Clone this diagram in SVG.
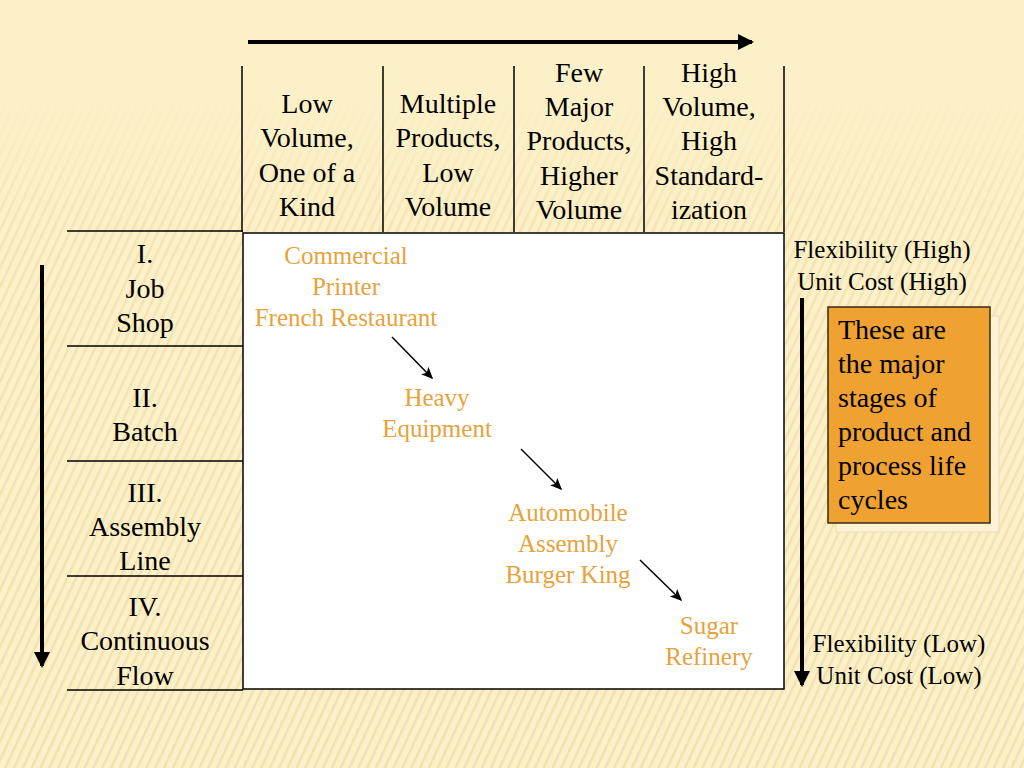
<svg xmlns="http://www.w3.org/2000/svg" width="1024" height="768" viewBox="0 0 1024 768">
  <defs>
    <pattern id="stripes" width="8" height="8" patternUnits="userSpaceOnUse" patternTransform="rotate(25)">
      <rect x="0" y="0" width="2.5" height="8" fill="#E3CB86"/>
    </pattern>
    <linearGradient id="fade" x1="0" y1="0" x2="0" y2="1">
      <stop offset="0" stop-color="#fff" stop-opacity="0"/>
      <stop offset="0.12" stop-color="#fff" stop-opacity="0"/>
      <stop offset="0.3" stop-color="#fff" stop-opacity="0.8"/>
      <stop offset="1" stop-color="#fff" stop-opacity="1"/>
    </linearGradient>
    <mask id="m">
      <rect x="0" y="0" width="1024" height="768" fill="url(#fade)"/>
    </mask>
    <marker id="thick" markerWidth="4" markerHeight="4" refX="3.5" refY="2" orient="auto" markerUnits="strokeWidth">
      <path d="M0,0 L4,2 L0,4 Z" fill="#000"/>
    </marker>
    <marker id="thin" markerWidth="8" markerHeight="8" refX="7" refY="4" orient="auto" markerUnits="strokeWidth">
      <path d="M0,0.5 L8,4 L0,7.5 L2,4 Z" fill="#000"/>
    </marker>
  </defs>
  <style>
    text { font-family: 'Liberation Serif', Tinos, 'Times New Roman', 'DejaVu Serif', serif; }
    .h { font-size: 28px; text-anchor: middle; fill: #000; }
    .o { font-size: 25px; fill: #E6A23C; text-anchor: middle; }
    .r { font-size: 25px; text-anchor: middle; fill: #000; }
    .ln { stroke: #000; stroke-width: 1.5; fill: none; }
    .thk { stroke: #000; stroke-width: 4; fill: none; }
    .arr { stroke: #000; stroke-width: 1.5; fill: none; marker-end: url(#thin); }
  </style>

  <rect x="0" y="0" width="1024" height="768" fill="#FCF0C8"/>
  <rect x="0" y="0" width="1024" height="768" fill="url(#stripes)" opacity="0.4" mask="url(#m)"/>

  <!-- header columns -->
  <g id="col-lines">
    <line class="ln" x1="242" y1="66" x2="242" y2="232"/>
    <line class="ln" x1="383" y1="66" x2="383" y2="232"/>
    <line class="ln" x1="514" y1="66" x2="514" y2="232"/>
    <line class="ln" x1="644" y1="66" x2="644" y2="232"/>
    <line class="ln" x1="784" y1="66" x2="784" y2="232"/>
  </g>
  <g id="col1" class="h" font-family="Liberation Serif, serif">
    <text x="307" y="113">Low</text>
    <text x="307" y="147">Volume,</text>
    <text x="307" y="182">One of a</text>
    <text x="307" y="216">Kind</text>
  </g>
  <g id="col2" class="h">
    <text x="448" y="113">Multiple</text>
    <text x="448" y="147">Products,</text>
    <text x="448" y="182">Low</text>
    <text x="448" y="216">Volume</text>
  </g>
  <g id="col3" class="h">
    <text x="579" y="82">Few</text>
    <text x="579" y="116">Major</text>
    <text x="579" y="150">Products,</text>
    <text x="579" y="185">Higher</text>
    <text x="579" y="219">Volume</text>
  </g>
  <g id="col4" class="h">
    <text x="709" y="82">High</text>
    <text x="709" y="116">Volume,</text>
    <text x="709" y="150">High</text>
    <text x="709" y="185">Standard-</text>
    <text x="709" y="219">ization</text>
  </g>

  <!-- matrix -->
  <rect id="matrix" x="243" y="233" width="541" height="456" fill="#fff" stroke="#000" stroke-width="1.5"/>

  <!-- rows -->
  <g id="row-lines">
    <line class="ln" x1="67" y1="231" x2="243" y2="231"/>
    <line class="ln" x1="67" y1="346" x2="243" y2="346"/>
    <line class="ln" x1="67" y1="461" x2="243" y2="461"/>
    <line class="ln" x1="67" y1="576" x2="243" y2="576"/>
    <line class="ln" x1="67" y1="690" x2="243" y2="690"/>
  </g>
  <g id="row1" class="h">
    <text x="145" y="263">I.</text>
    <text x="145" y="298">Job</text>
    <text x="145" y="332">Shop</text>
  </g>
  <g id="row2" class="h">
    <text x="145" y="407">II.</text>
    <text x="145" y="441">Batch</text>
  </g>
  <g id="row3" class="h">
    <text x="145" y="502">III.</text>
    <text x="145" y="536">Assembly</text>
    <text x="145" y="570">Line</text>
  </g>
  <g id="row4" class="h">
    <text x="145" y="616">IV.</text>
    <text x="145" y="650">Continuous</text>
    <text x="145" y="685">Flow</text>
  </g>

  <!-- examples -->
  <g id="ex1" class="o">
    <text x="346" y="264">Commercial</text>
    <text x="346" y="295">Printer</text>
    <text x="346" y="326">French Restaurant</text>
  </g>
  <g id="ex2" class="o">
    <text x="437" y="406">Heavy</text>
    <text x="437" y="437">Equipment</text>
  </g>
  <g id="ex3" class="o">
    <text x="568" y="521">Automobile</text>
    <text x="568" y="552">Assembly</text>
    <text x="568" y="583">Burger King</text>
  </g>
  <g id="ex4" class="o">
    <text x="709" y="634">Sugar</text>
    <text x="709" y="665">Refinery</text>
  </g>

  <!-- right labels -->
  <g id="high" class="r">
    <text x="882" y="258">Flexibility (High)</text>
    <text x="882" y="290">Unit Cost (High)</text>
  </g>
  <g id="low" class="r">
    <text x="899" y="652">Flexibility (Low)</text>
    <text x="899" y="684">Unit Cost (Low)</text>
  </g>

  <!-- note box -->
  <g id="note">
    <rect x="836" y="316" width="163" height="216" fill="#FCF2D4" stroke="#E8DDB8" stroke-width="1"/>
    <rect x="828" y="307" width="162" height="216" fill="#EFA232" stroke="#3a2a10" stroke-width="1.5"/>
    <g font-size="28" fill="#000">
      <text x="838" y="339">These are</text>
      <text x="838" y="373">the major</text>
      <text x="838" y="407">stages of</text>
      <text x="838" y="441">product and</text>
      <text x="838" y="475">process life</text>
      <text x="838" y="509">cycles</text>
    </g>
  </g>

  <!-- connectors -->
  <g id="connectors">
    <line class="thk" x1="248" y1="42" x2="752" y2="42" marker-end="url(#thick)"/>
    <line class="thk" x1="42" y1="265" x2="42" y2="666" marker-end="url(#thick)"/>
    <line class="thk" x1="802" y1="298" x2="802" y2="685" marker-end="url(#thick)"/>
    <line class="arr" x1="392" y1="337" x2="432" y2="378"/>
    <line class="arr" x1="521" y1="449" x2="561" y2="489"/>
    <line class="arr" x1="640" y1="560" x2="681" y2="600"/>
  </g>
</svg>
